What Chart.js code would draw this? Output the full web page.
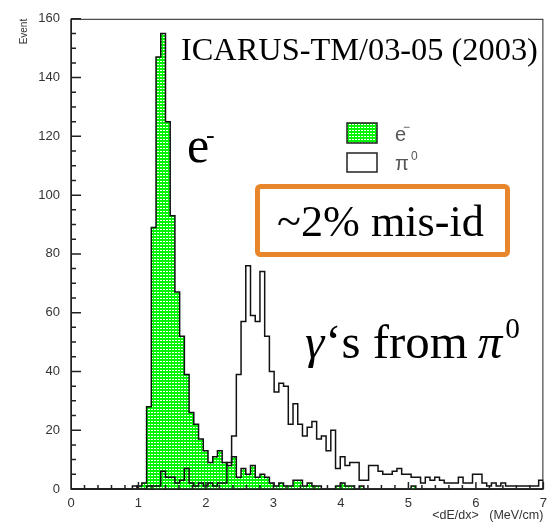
<!DOCTYPE html>
<html lang="en">
<head>
<meta charset="UTF-8">
<title>dE/dx: e- vs pi0</title>
<script src="https://cdn.jsdelivr.net/npm/chart.js"></script>
<style>
    body { margin: 0; background: #fff; }
    .wrap { position: relative; width: 554px; height: 526px; }
</style>
</head>
<body>
<div class="wrap"><canvas id="dedxChart"></canvas></div>
<script>
// 100 bins of 0.07 MeV/cm between 0 and 7
const binWidth = 0.07;

const electronCounts = [
    0, 0, 0, 0, 0, 0, 0, 0, 0, 0,
    0, 0, 0, 0, 1, 2, 28, 89, 147, 155,
    125, 93, 67, 52, 39, 26, 22, 17, 13, 9,
    11, 13, 9, 8, 11, 4, 7, 5, 8, 4,
    5, 4, 2, 1, 2, 1, 1, 3, 3, 1,
    2, 1, 1, 0, 0, 0, 1, 2, 1, 1,
    0, 1, 0, 0, 0, 0, 0, 0, 0, 0,
    0, 0, 1, 0, 0, 0, 0, 0, 0, 0,
    0, 0, 0, 0, 0, 0, 0, 0, 0, 0,
    0, 0, 0, 0, 0, 0, 0, 0, 0, 0
];

const pi0Counts = [
    0, 0, 0, 0, 0, 0, 0, 0, 0, 0,
    0, 0, 0, 1, 0, 0, 1, 1, 1, 6,
    4, 4, 2, 3, 7, 2, 1, 2, 1, 2,
    1, 2, 2, 9, 18, 39, 57, 76, 59, 57,
    74, 52, 40, 33, 36, 35, 22, 29, 22, 18,
    21, 23, 17, 18, 13, 20, 7, 11, 8, 9,
    9, 3, 3, 8, 8, 6, 5, 5, 6, 7,
    5, 5, 4, 4, 2, 4, 3, 4, 3, 2,
    2, 2, 4, 2, 2, 5, 5, 2, 1, 2,
    1, 2, 1, 1, 1, 1, 1, 1, 1, 3
];

const xTickValues = [0, 1, 2, 3, 4, 5, 6, 7];
const yTickValues = [0, 20, 40, 60, 80, 100, 120, 140, 160];

// left bin edges + closing point, drawn as a stepped line
function histPoints(counts) {
    const pts = counts.map((c, i) => ({ x: +(i * binWidth).toFixed(2), y: c }));
    pts.push({ x: +(counts.length * binWidth).toFixed(2), y: 0 });
    return pts;
}

// ROOT-like green hatch: green with little white cells
function greenFill(ctx) {
    const c = document.createElement('canvas');
    c.width = 3; c.height = 3;
    const g = c.getContext('2d');
    g.fillStyle = '#00f500';
    g.fillRect(0, 0, 3, 3);
    g.fillStyle = '#ffffff';
    g.fillRect(1, 1, 2, 1);
    return ctx.createPattern(c, 'repeat');
}

const canvas = document.getElementById('dedxChart');
const ctx = canvas.getContext('2d');
const greenPattern = greenFill(ctx);

// frame and inward ticks, ROOT style
const frameTicks = {
    id: 'frameTicks',
    afterDatasetsDraw(chart) {
        const { ctx, chartArea: a, scales: { x, y } } = chart;
        ctx.save();
        ctx.strokeStyle = '#222';
        ctx.lineWidth = 1;
        ctx.strokeRect(a.left + 0.5, a.top + 0.5, a.right - a.left - 1, a.bottom - a.top);
        ctx.lineWidth = 1.5;
        ctx.beginPath();
        ctx.moveTo(a.left, a.top);
        ctx.lineTo(a.left, a.bottom);
        ctx.lineTo(a.right, a.bottom);
        for (let k = 0; k <= 35; k++) {
            const px = x.getPixelForValue(k * 0.2);
            ctx.moveTo(px, a.bottom);
            ctx.lineTo(px, a.bottom - (k % 5 === 0 ? 7 : 4));
        }
        for (let k = 0; k <= 32; k++) {
            const py = y.getPixelForValue(k * 5);
            ctx.moveTo(a.left, py);
            ctx.lineTo(a.left + (k % 4 === 0 ? 10 : 5), py);
        }
        ctx.stroke();
        ctx.restore();
    }
};

function fitFont(ctx, text, family, width) {
    ctx.font = '40px ' + family;
    return 40 * width / ctx.measureText(text).width;
}

const annotations = {
    id: 'annotations',
    afterDraw(chart) {
        const c = chart.ctx;
        c.save();
        c.textBaseline = 'alphabetic';
        c.textAlign = 'left';
        c.fillStyle = '#000';

        // report reference
        const ref = 'ICARUS-TM/03-05 (2003)';
        const refSize = fitFont(c, ref, '"Liberation Serif"', 357);
        c.font = refSize + 'px "Liberation Serif"';
        c.fillText(ref, 181, 60);

        // big e-
        c.font = '50px "Liberation Serif"';
        c.fillText('e', 187, 162);
        c.font = '26px "Liberation Serif"';
        c.fillText('-', 206, 143);

        // legend
        c.lineWidth = 1.5;
        c.strokeStyle = '#222';
        c.fillStyle = greenPattern;
        c.fillRect(347, 123, 30, 20);
        c.strokeRect(347, 123, 30, 20);
        c.fillStyle = '#fff';
        c.fillRect(347, 153, 30, 19);
        c.strokeRect(347, 153, 30, 19);
        c.fillStyle = '#555';
        c.font = '20px "Liberation Sans"';
        c.fillText('e', 395, 141);
        c.fillText('\u03c0', 395, 170);
        c.font = '12px "Liberation Sans"';
        c.fillText('\u2212', 403, 131);
        c.fillText('0', 411, 160);

        // mis-id box
        c.strokeStyle = '#e8862c';
        c.lineWidth = 5;
        c.beginPath();
        c.roundRect(257.5, 186.5, 250, 68, 3);
        c.stroke();
        c.fillStyle = '#000';
        const mis = '~2% mis-id';
        const misSize = fitFont(c, mis, '"Liberation Serif"', 207);
        c.font = misSize + 'px "Liberation Serif"';
        c.fillText(mis, 277, 236);

        // gamma label, scaled to span x 305..525 with a little math spacing
        const parts = [
            ['\u03b3', 'italic ', 1, 0, 0],
            ['\u2018s from', '', 1, 0, 1],
            ['\u03c0', 'italic ', 1, 0, 10],
            ['0', '', 0.6, -0.4, 3]
        ];
        let w36 = 0;
        parts.forEach(p => {
            c.font = p[1] + (36 * p[2]) + 'px "Liberation Serif"';
            w36 += c.measureText(p[0]).width + p[4];
        });
        const gs = 36 * 220 / w36;
        let gx = 305;
        parts.forEach(p => {
            c.font = p[1] + (gs * p[2]) + 'px "Liberation Serif"';
            gx += p[4];
            c.fillText(p[0], gx, 358 + gs * p[3]);
            gx += c.measureText(p[0]).width;
        });
        c.restore();
    }
};

new Chart(ctx, {
    type: 'line',
    data: {
        datasets: [
            {
                label: '\u03c0\u2070',
                data: histPoints(pi0Counts),
                stepped: true,
                borderColor: '#111',
                borderWidth: 1.5,
                pointRadius: 0,
                fill: false,
                order: 0
            },
            {
                label: 'e\u207b',
                data: histPoints(electronCounts),
                stepped: true,
                borderColor: '#111',
                borderWidth: 1.5,
                backgroundColor: greenPattern,
                pointRadius: 0,
                fill: 'origin',
                order: 1
            }
        ]
    },
    options: {
        responsive: true,
        maintainAspectRatio: false,
        animation: false,
        layout: { padding: { left: 0, right: 7, top: 15, bottom: 0 } },
        plugins: {
            legend: { display: false },
            tooltip: { enabled: false }
        },
        scales: {
            x: {
                type: 'linear',
                min: 0,
                max: 7,
                grid: { display: false, drawTicks: false },
                border: { display: false },
                afterBuildTicks: s => { s.ticks = xTickValues.map(v => ({ value: v })); },
                ticks: {
                    padding: 7,
                    maxRotation: 0,
                    color: '#333',
                    font: { family: 'Liberation Sans', size: 13 }
                },
                title: {
                    display: true,
                    text: '<dE/dx>   (MeV/cm)',
                    align: 'end',
                    color: '#333',
                    padding: { top: 0, bottom: 3 },
                    font: { family: 'Liberation Sans', size: 12.5 }
                },
                afterFit: s => { s.height = 37; }
            },
            y: {
                min: 0,
                max: 160,
                grid: { display: false, drawTicks: false },
                border: { display: false },
                afterBuildTicks: s => { s.ticks = yTickValues.map(v => ({ value: v })); },
                ticks: {
                    padding: 11,
                    color: '#333',
                    font: { family: 'Liberation Sans', size: 13 }
                },
                title: {
                    display: true,
                    text: 'Event',
                    align: 'end',
                    color: '#333',
                    padding: { top: 18, bottom: 0 },
                    font: { family: 'Liberation Sans', size: 10 }
                },
                afterFit: s => { s.width = 71; }
            }
        }
    },
    plugins: [frameTicks, annotations]
});
</script>
</body>
</html>
